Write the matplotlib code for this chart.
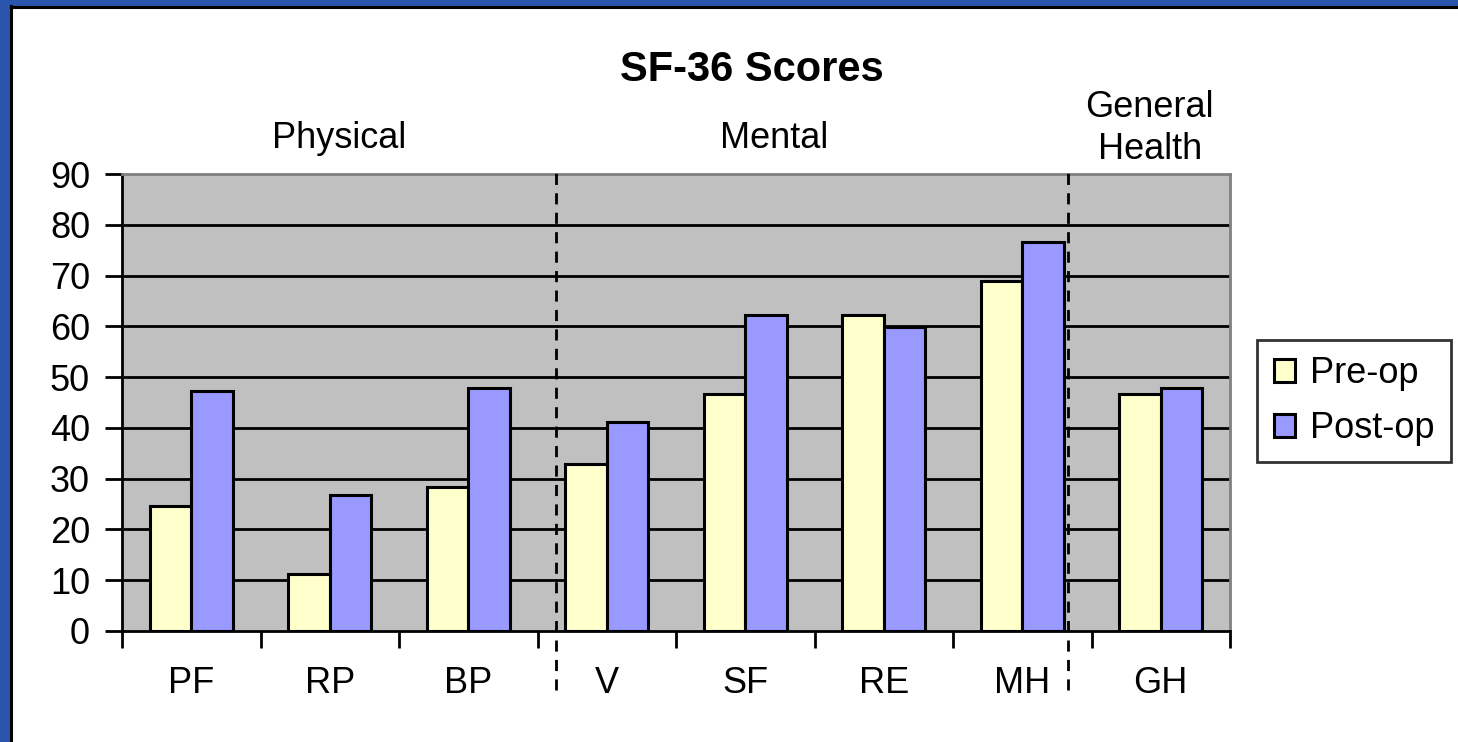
import matplotlib
matplotlib.use("Agg")
import matplotlib.pyplot as plt
import numpy as np
from matplotlib.patches import Rectangle
from matplotlib.lines import Line2D

categories = ["PF", "RP", "BP", "V", "SF", "RE", "MH", "GH"]
pre_op = [24.6, 11.2, 28.4, 32.9, 46.7, 62.2, 68.9, 46.7]
post_op = [47.3, 26.8, 47.9, 41.2, 62.2, 59.9, 76.6, 47.9]
groups = ["Physical", "Mental", "General\nHealth"]
group_centers = [1.07, 4.21, 6.92]
group_y = [1.077, 1.077, 1.10]
dividers = [2.63, 6.33]
yticks = list(range(0, 91, 10))

plt.rcParams['font.family'] = ['Liberation Sans', 'DejaVu Sans']

W, H = 1458, 742
FS = 26
fig = plt.figure(figsize=(W / 100, H / 100), dpi=100)
fig.patch.set_facecolor("white")

# blue frame (left and top) with black inner line
fig.patches.append(Rectangle((0, 0), 10 / W, 1, transform=fig.transFigure,
                             facecolor="#2a55ad", edgecolor="none", zorder=0))
fig.patches.append(Rectangle((0, 1 - 6 / H), 1, 6 / H, transform=fig.transFigure,
                             facecolor="#2a55ad", edgecolor="none", zorder=0))
fig.lines.append(Line2D([10.5 / W, 10.5 / W], [0, 1 - 6 / H], transform=fig.transFigure,
                        color="black", lw=2.2))
fig.lines.append(Line2D([10.5 / W, 1], [1 - 6.8 / H, 1 - 6.8 / H], transform=fig.transFigure,
                        color="black", lw=2.2))

ax = fig.add_axes([122 / W, (H - 631) / H, (1230 - 122) / W, (631 - 174) / H])
ax.set_facecolor("#c0c0c0")

x = np.arange(len(categories))
bw = 0.3
ax.bar(x - bw / 2, pre_op, width=bw, color="#ffffcc", edgecolor="black", linewidth=2.2,
       label="Pre-op", zorder=3)
ax.bar(x + bw / 2, post_op, width=bw, color="#9999ff", edgecolor="black", linewidth=2.2,
       label="Post-op", zorder=3)

ax.set_xlim(-0.5, len(categories) - 0.5)
ax.set_ylim(0, 90)
ax.set_yticks(yticks)
ax.set_yticklabels([str(v) for v in yticks], fontsize=FS)
for v in yticks[1:-1]:
    ax.axhline(v, color="black", lw=2, zorder=1)

ax.set_xticks(np.arange(-0.5, len(categories), 1.0))
ax.set_xticklabels([])
ax.set_xticks(x, minor=True)
ax.set_xticklabels(categories, minor=True, fontsize=FS)
ax.tick_params(axis="x", which="minor", length=0, pad=25)
ax.tick_params(axis="x", which="major", length=12, width=2, direction="out")
ax.tick_params(axis="y", length=12, width=2, direction="out", pad=11)

for s in ["left", "bottom"]:
    ax.spines[s].set_color("black")
    ax.spines[s].set_linewidth(2)
for s in ["top", "right"]:
    ax.spines[s].set_color("#808080")
    ax.spines[s].set_linewidth(2)

for d in dividers:
    ax.plot([d, d], [-0.129, 1.013], transform=ax.get_xaxis_transform(), color="black",
            lw=2, ls=(0, (4, 3)), clip_on=False, zorder=4)

for g, c, gy in zip(groups, group_centers, group_y):
    ax.text(c, gy, g, transform=ax.get_xaxis_transform(),
            ha="center", va="center", fontsize=FS, linespacing=1.25)

fig.text(752 / W, 1 - 70 / H, "SF-36 Scores", ha="center", va="center", fontsize=30,
         fontweight="bold")

leg = fig.legend(loc="center", bbox_to_anchor=(1354 / W, 1 - 401 / H), fontsize=FS,
                 frameon=True, fancybox=False, edgecolor="black", handlelength=0.6,
                 handleheight=0.6, handletextpad=0.4, borderpad=0.45, labelspacing=0.55,
                 borderaxespad=0)
leg.get_frame().set_linewidth(2)

fig.savefig("out.png", dpi=100)
